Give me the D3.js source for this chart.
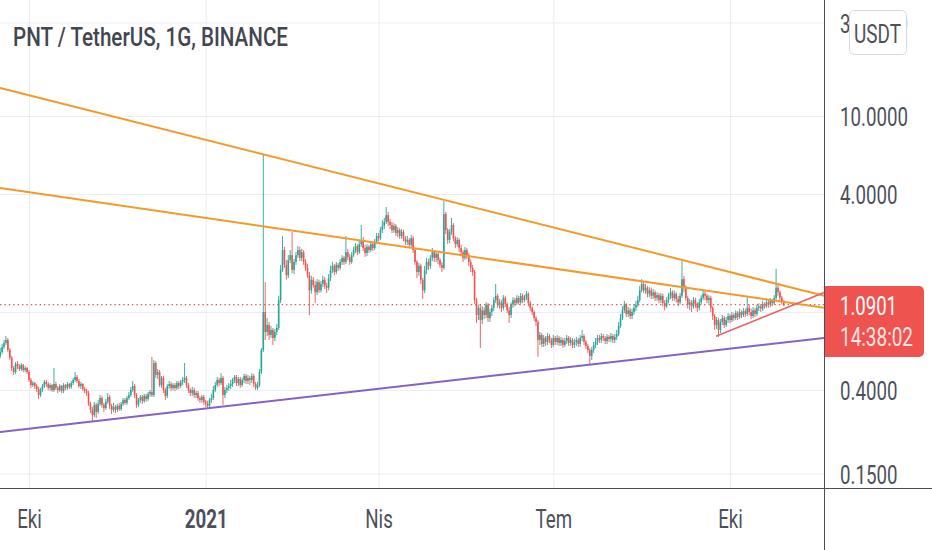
<!DOCTYPE html>
<html>
<head>
<meta charset="utf-8">
<script src="https://cdn.jsdelivr.net/npm/d3@7"></script>
<style>
  body { margin: 0; background: #fff; }
  svg { display: block; }
  text { font-family: Roboto, "Noto Sans", sans-serif; }
</style>
</head>
<body>
<div id="chart"></div>
<script>
// Daily candles, PNT/USDT, starting 16 Sep 2020 (open = previous close)
const firstDay = new Date(2020, 8, 16);
const firstOpen = 0.597;

const closes = [
  0.625,0.663,0.695,0.720,0.640,0.583,0.518,0.494,0.543,0.530,
  0.512,0.537,0.506,0.518,0.494,0.450,0.424,0.434,0.419,0.405,
  0.377,0.400,0.419,0.440,0.429,0.410,0.424,0.400,0.429,0.410,
  0.400,0.419,0.396,0.424,0.410,0.429,0.415,0.434,0.450,0.466,
  0.445,0.419,0.429,0.405,0.396,0.386,0.340,0.317,0.298,0.336,
  0.309,0.340,0.364,0.336,0.324,0.348,0.369,0.332,0.317,0.328,
  0.317,0.332,0.320,0.340,0.356,0.344,0.364,0.377,0.400,0.419,
  0.377,0.336,0.356,0.369,0.352,0.373,0.360,0.382,0.391,0.377,
  0.549,0.477,0.494,0.424,0.461,0.400,0.373,0.419,0.429,0.410,
  0.424,0.410,0.434,0.419,0.440,0.450,0.461,0.424,0.400,0.386,
  0.400,0.377,0.386,0.364,0.356,0.369,0.348,0.340,0.332,0.356,
  0.364,0.400,0.424,0.450,0.434,0.461,0.377,0.400,0.410,0.419,
  0.429,0.450,0.466,0.434,0.455,0.424,0.450,0.472,0.445,0.461,
  0.450,0.472,0.429,0.410,0.424,0.494,0.640,1.00,0.791,0.858,
  0.763,0.810,0.737,0.791,0.829,1.15,1.64,2.07,1.74,1.54,
  1.84,1.95,1.64,1.80,1.95,2.07,1.89,2.02,1.80,1.68,
  1.54,1.29,1.46,1.37,1.26,1.42,1.29,1.39,1.46,1.36,
  1.33,1.49,1.64,1.72,1.60,1.74,1.68,1.80,1.89,1.80,
  2.02,1.91,1.80,1.95,2.07,2.17,2.02,2.22,2.33,2.12,
  2.00,2.15,2.07,2.22,2.12,2.28,2.44,2.38,2.62,2.75,
  2.88,3.12,2.88,2.78,2.62,2.75,2.53,2.62,2.44,2.56,
  2.38,2.28,2.33,2.20,2.38,2.07,1.80,1.60,1.72,1.46,
  1.29,1.64,1.80,1.72,1.89,2.02,1.89,1.98,1.84,1.74,
  1.68,3.16,2.62,2.33,2.56,2.78,2.38,2.22,2.33,2.12,
  2.02,1.89,2.07,1.95,1.80,1.68,1.60,1.15,0.965,1.05,
  0.910,1.02,0.965,1.09,0.932,1.00,1.05,1.15,1.21,1.09,
  1.12,1.05,1.18,1.10,1.02,0.965,1.09,1.15,1.11,1.18,
  1.12,1.21,1.15,1.18,1.24,1.11,1.05,1.00,0.932,0.889,
  0.720,0.763,0.687,0.737,0.703,0.754,0.720,0.679,0.737,0.703,
  0.737,0.695,0.720,0.679,0.711,0.737,0.695,0.720,0.679,0.703,
  0.720,0.687,0.737,0.754,0.703,0.671,0.640,0.597,0.640,0.679,
  0.703,0.737,0.720,0.754,0.737,0.711,0.746,0.728,0.754,0.720,
  0.746,0.772,0.848,0.932,1.02,1.09,0.977,1.02,0.954,1.00,
  1.05,1.09,1.15,1.29,1.39,1.29,1.33,1.24,1.29,1.21,
  1.26,1.18,1.22,1.15,1.21,1.11,1.07,1.15,1.21,1.26,
  1.18,1.24,1.165,1.12,1.21,1.47,1.33,1.18,1.09,1.12,
  1.07,1.15,1.10,1.05,1.12,1.18,1.24,1.21,1.15,1.18,
  1.05,0.954,0.858,0.910,0.810,0.889,0.932,0.858,0.910,0.954,
  0.910,0.965,0.932,0.988,0.943,1.00,0.965,1.01,0.977,1.05,
  1.00,0.954,1.02,0.977,1.05,1.07,1.04,1.10,1.07,1.12,
  1.09,1.14,1.11,1.18,1.33,1.26,1.18,1.12,1.0901
];

const highs = [
  0.655,0.687,0.720,0.754,0.737,0.655,0.597,0.530,0.556,0.562,
  0.543,0.549,0.543,0.530,0.524,0.506,0.461,0.445,0.440,0.429,
  0.415,0.410,0.429,0.450,0.450,0.440,0.434,0.429,0.518,0.440,
  0.419,0.429,0.424,0.434,0.429,0.440,0.434,0.445,0.461,0.494,
  0.477,0.455,0.440,0.434,0.415,0.405,0.396,0.348,0.328,0.348,
  0.344,0.356,0.377,0.373,0.344,0.360,0.386,0.377,0.340,0.344,
  0.336,0.340,0.344,0.348,0.364,0.364,0.373,0.391,0.415,0.445,
  0.429,0.386,0.364,0.377,0.377,0.382,0.382,0.391,0.400,0.590,
  0.569,0.562,0.512,0.506,0.472,0.472,0.410,0.429,0.445,0.440,
  0.434,0.434,0.445,0.445,0.450,0.466,0.549,0.472,0.434,0.410,
  0.415,0.410,0.396,0.396,0.373,0.377,0.377,0.356,0.352,0.364,
  0.382,0.419,0.440,0.466,0.461,0.488,0.472,0.415,0.424,0.434,
  0.450,0.461,0.477,0.477,0.466,0.466,0.461,0.483,0.483,0.477,
  0.472,0.488,0.483,0.440,0.440,0.512,0.655,6.40,1.42,0.932,
  0.889,0.848,0.829,0.819,0.869,1.21,1.74,2.44,2.15,1.84,
  1.95,2.07,2.56,1.86,2.02,2.17,2.15,2.10,2.07,1.86,
  1.76,1.60,1.53,1.51,1.44,1.47,1.46,1.44,1.53,1.51,
  1.41,1.56,1.72,1.80,1.76,1.80,1.78,1.86,1.95,1.93,
  2.44,2.10,1.98,2.02,2.15,2.25,2.22,2.30,2.78,2.41,
  2.20,2.22,2.20,2.30,2.28,2.36,2.53,2.53,2.71,2.95,
  3.02,3.43,3.24,2.98,2.88,2.84,2.81,2.71,2.68,2.65,
  2.62,2.44,2.44,2.38,2.47,2.44,2.12,1.84,1.78,1.76,
  1.49,1.72,1.89,1.86,1.95,2.12,2.07,2.05,2.02,1.89,
  1.80,3.68,3.24,2.68,2.65,3.02,2.84,2.44,2.41,2.38,
  2.20,2.07,2.15,2.12,2.00,1.86,1.74,1.64,1.18,1.09,
  1.10,1.07,1.06,1.12,1.11,1.04,1.09,1.19,1.39,1.24,
  1.165,1.15,1.22,1.21,1.12,1.06,1.12,1.19,1.18,1.22,
  1.21,1.25,1.24,1.22,1.28,1.26,1.14,1.07,1.02,0.954,
  0.910,0.791,0.781,0.763,0.754,0.781,0.772,0.737,0.763,0.754,
  0.763,0.754,0.746,0.737,0.737,0.763,0.754,0.746,0.737,0.728,
  0.746,0.737,0.763,0.810,0.772,0.720,0.687,0.655,0.663,0.703,
  0.737,0.763,0.763,0.781,0.772,0.754,0.772,0.763,0.781,0.772,
  0.772,0.810,0.889,0.977,1.07,1.14,1.11,1.06,1.05,1.04,
  1.10,1.14,1.21,1.36,1.47,1.42,1.39,1.36,1.34,1.33,
  1.31,1.29,1.26,1.25,1.25,1.24,1.15,1.19,1.25,1.33,
  1.29,1.29,1.26,1.21,1.25,1.82,1.53,1.37,1.21,1.165,
  1.15,1.19,1.18,1.12,1.165,1.22,1.29,1.28,1.24,1.22,
  1.21,1.07,0.977,0.943,0.932,0.921,0.965,0.954,0.943,0.988,
  0.977,1.00,0.988,1.02,1.01,1.04,1.02,1.05,1.04,1.19,
  1.09,1.04,1.06,1.05,1.09,1.11,1.10,1.14,1.12,1.165,
  1.15,1.18,1.165,1.22,1.66,1.41,1.29,1.21,1.15
];

const lows = [
  0.583,0.611,0.647,0.679,0.625,0.569,0.500,0.477,0.483,0.512,
  0.500,0.500,0.494,0.494,0.483,0.440,0.410,0.415,0.405,0.391,
  0.360,0.369,0.391,0.410,0.415,0.400,0.396,0.391,0.391,0.400,
  0.386,0.391,0.386,0.386,0.400,0.400,0.405,0.405,0.424,0.440,
  0.434,0.410,0.405,0.396,0.386,0.373,0.332,0.305,0.278,0.291,
  0.288,0.302,0.332,0.324,0.309,0.317,0.340,0.320,0.302,0.309,
  0.305,0.309,0.313,0.313,0.332,0.336,0.336,0.356,0.369,0.391,
  0.364,0.324,0.328,0.344,0.340,0.344,0.348,0.352,0.369,0.369,
  0.369,0.461,0.455,0.415,0.410,0.386,0.356,0.364,0.405,0.396,
  0.400,0.396,0.400,0.405,0.410,0.424,0.434,0.410,0.386,0.373,
  0.373,0.364,0.364,0.352,0.344,0.344,0.336,0.328,0.324,0.324,
  0.344,0.356,0.391,0.415,0.419,0.424,0.336,0.364,0.386,0.396,
  0.405,0.415,0.434,0.419,0.419,0.410,0.415,0.434,0.429,0.429,
  0.424,0.434,0.415,0.400,0.400,0.415,0.483,0.625,0.720,0.754,
  0.720,0.737,0.679,0.711,0.763,0.810,1.11,1.60,1.68,1.46,
  1.49,1.78,1.58,1.56,1.74,1.89,1.82,1.82,1.74,1.62,
  1.49,0.965,1.24,1.33,1.11,1.22,1.25,1.26,1.34,1.31,
  1.25,1.29,1.44,1.58,1.54,1.56,1.62,1.64,1.74,1.74,
  1.76,1.84,1.74,1.76,1.91,2.00,1.95,1.98,2.15,2.05,
  1.91,1.93,2.00,2.02,2.05,2.07,2.22,2.30,2.33,2.53,
  2.65,2.81,2.75,2.65,2.53,2.53,2.44,2.41,2.36,2.36,
  2.30,2.20,2.20,2.12,2.15,2.00,1.74,1.49,1.53,1.39,
  1.165,1.25,1.56,1.64,1.66,1.82,1.80,1.80,1.76,1.68,
  1.60,1.64,2.50,2.22,2.25,2.47,2.30,2.12,2.15,2.02,
  1.93,1.80,1.84,1.86,1.72,1.60,1.53,1.10,0.879,0.910,
  0.655,0.869,0.921,0.932,0.889,0.889,0.954,1.01,1.11,1.05,
  1.04,1.00,1.02,1.06,0.988,0.879,0.932,1.05,1.07,1.09,
  1.09,1.10,1.11,1.12,1.15,1.07,1.01,0.965,0.900,0.848,
  0.590,0.679,0.663,0.663,0.671,0.679,0.695,0.655,0.663,0.679,
  0.679,0.671,0.671,0.655,0.663,0.687,0.671,0.671,0.655,0.655,
  0.671,0.663,0.663,0.711,0.679,0.647,0.618,0.543,0.569,0.618,
  0.655,0.679,0.695,0.695,0.711,0.687,0.687,0.703,0.703,0.695,
  0.695,0.720,0.754,0.829,0.910,0.988,0.943,0.943,0.921,0.921,
  0.965,1.01,1.06,1.12,1.26,1.25,1.24,1.19,1.19,1.165,
  1.165,1.14,1.14,1.11,1.11,1.07,1.02,1.05,1.11,1.165,
  1.14,1.14,1.12,1.07,1.09,1.18,1.26,1.14,1.04,1.02,
  1.00,1.04,1.05,1.00,1.02,1.09,1.15,1.15,1.11,1.10,
  1.00,0.910,0.810,0.819,0.746,0.781,0.858,0.829,0.838,0.879,
  0.879,0.889,0.900,0.910,0.910,0.921,0.932,0.943,0.943,0.954,
  0.965,0.921,0.932,0.943,0.954,1.01,1.00,1.01,1.04,1.05,
  1.05,1.06,1.07,1.09,1.15,1.21,1.14,1.09,1.07
];

const lastPrice = 1.0901;
const countdown = '14:38:02';

// axis ticks (the 1.0000 label sits under the price tag, so only its grid line shows)
const priceTicks = [30, 10, 4, 1, 0.4, 0.15];
const priceLabelTicks = [30, 10, 4, 0.4, 0.15];
const timeTicks = [new Date(2020, 9, 1), new Date(2021, 0, 1), new Date(2021, 3, 1),
                   new Date(2021, 6, 1), new Date(2021, 9, 1)];
const timeLabels = ['Eki', '2021', 'Nis', 'Tem', 'Eki'];

// drawn trend lines: [date, price] at each end
const edgeLeft = new Date(2020, 8, 16);
const edgeRight = new Date(2021, 10, 19);
const trendLines = [
  { from: [edgeLeft, 13.9], to: [edgeRight, 1.21], color: '#f39a2b', width: 2 },
  { from: [edgeLeft, 4.29], to: [edgeRight, 1.05], color: '#f39a2b', width: 2 },
  { from: [edgeLeft, 0.244], to: [edgeRight, 0.737], color: '#8561c8', width: 2 },
  { from: [new Date(2021, 8, 24), 0.754], to: [edgeRight, 1.257], color: '#e8656a', width: 1.6 }
];

// Set SVG size and plot area
const w = 932;
const h = 550;
const plotW = 824;
const plotH = 488;

const xScale = d3.scaleTime()
                 .domain([timeTicks[0], timeTicks[4]])
                 .range([29, 730]);

const yScale = d3.scaleLog()
                 .domain([0.1265, 39.06])
                 .range([plotH, 0]);

const svg = d3.select('#chart')
              .append('svg')
              .attr('width', w)
              .attr('height', h);

svg.append('defs').append('clipPath')
   .attr('id', 'plot')
   .append('rect')
   .attr('width', plotW)
   .attr('height', plotH);

// grid
const gridColor = '#eaedf2';
svg.append('g')
   .call(d3.axisRight(yScale).tickValues(priceTicks).tickSize(plotW).tickFormat(''))
   .call(g => g.select('.domain').remove())
   .selectAll('line').attr('stroke', gridColor);

svg.append('g')
   .attr('transform', 'translate(0,' + plotH + ')')
   .call(d3.axisBottom(xScale).tickValues(timeTicks).tickSize(-plotH).tickFormat(''))
   .call(g => g.select('.domain').remove())
   .selectAll('line').attr('stroke', gridColor);

// candles
const candles = closes.map((c, i) => ({
  date: d3.timeDay.offset(firstDay, i),
  open: i === 0 ? firstOpen : closes[i - 1],
  high: highs[i],
  low: lows[i],
  close: c
}));

const cg = svg.append('g').attr('clip-path', 'url(#plot)');
const candle = cg.selectAll('g.candle')
                 .data(candles)
                 .join('g')
                 .attr('class', 'candle')
                 .attr('fill', d => d.close >= d.open ? '#26a69a' : '#ef5350')
                 .attr('stroke', d => d.close >= d.open ? '#26a69a' : '#ef5350');

candle.append('line')
      .attr('x1', d => xScale(d.date))
      .attr('x2', d => xScale(d.date))
      .attr('y1', d => yScale(d.high))
      .attr('y2', d => yScale(d.low))
      .attr('stroke-width', 0.9);

candle.append('rect')
      .attr('stroke', 'none')
      .attr('x', d => xScale(d.date) - 0.8)
      .attr('width', 1.6)
      .attr('y', d => yScale(Math.max(d.open, d.close)))
      .attr('height', d => Math.max(1, Math.abs(yScale(d.open) - yScale(d.close))));

// last price dotted line
cg.append('line')
  .attr('x1', 0)
  .attr('x2', plotW)
  .attr('y1', yScale(lastPrice))
  .attr('y2', yScale(lastPrice))
  .attr('stroke', '#ef5350')
  .attr('stroke-width', 1.4)
  .attr('stroke-dasharray', '1.4,3');

// trend lines
cg.selectAll('line.trend')
  .data(trendLines)
  .join('line')
  .attr('class', 'trend')
  .attr('x1', d => xScale(d.from[0]))
  .attr('y1', d => yScale(d.from[1]))
  .attr('x2', d => xScale(d.to[0]))
  .attr('y2', d => yScale(d.to[1]))
  .attr('stroke', d => d.color)
  .attr('stroke-width', d => d.width)
  .attr('stroke-linecap', 'round');

// axes borders
const axisColor = '#4a4e59';
svg.append('line')
   .attr('x1', plotW + 0.5).attr('x2', plotW + 0.5)
   .attr('y1', 0).attr('y2', h)
   .attr('stroke', axisColor);
svg.append('line')
   .attr('x1', 0).attr('x2', w)
   .attr('y1', plotH + 0.5).attr('y2', plotH + 0.5)
   .attr('stroke', axisColor);

// text is drawn narrow like in the screenshot
const sx = 0.72;

// price axis labels
svg.append('g')
   .attr('transform', 'translate(' + plotW + ',0)')
   .call(d3.axisRight(yScale).tickValues(priceLabelTicks).tickSize(0).tickFormat(d3.format('.4f')))
   .call(g => g.select('.domain').remove())
   .selectAll('text')
   .attr('x', 16 / sx)
   .attr('dy', '0.38em')
   .attr('transform', 'scale(' + sx + ',1)')
   .attr('fill', '#4c505b')
   .style('font-size', '26px')
   .style('font-family', 'Roboto');

// time axis labels
svg.append('g')
   .attr('transform', 'translate(0,' + plotH + ')')
   .call(d3.axisBottom(xScale).tickValues(timeTicks).tickSize(0).tickFormat((d, i) => timeLabels[i]))
   .call(g => g.select('.domain').remove())
   .selectAll('text')
   .attr('y', 40)
   .attr('dy', 0)
   .attr('transform', 'scale(' + sx + ',1)')
   .attr('fill', '#4c505b')
   .style('font-size', '26px')
   .style('font-family', 'Roboto')
   .style('font-weight', (d, i) => i === 1 ? 700 : 400);

// title
svg.append('text')
   .attr('x', 13)
   .attr('y', 46)
   .attr('textLength', 275)
   .attr('lengthAdjust', 'spacingAndGlyphs')
   .attr('fill', '#434651')
   .style('font-size', '26px')
   .style('font-weight', 500)
   .text('PNT / TetherUS, 1G, BINANCE');

// currency button (covers most of the top price label, as in the app)
svg.append('rect')
   .attr('x', 849.5).attr('y', 10.5)
   .attr('width', 57).attr('height', 44)
   .attr('rx', 5)
   .attr('fill', '#fff')
   .attr('stroke', '#d6d9df');
svg.append('text')
   .attr('x', 854)
   .attr('y', 43)
   .attr('textLength', 47)
   .attr('lengthAdjust', 'spacingAndGlyphs')
   .attr('fill', '#4c505b')
   .style('font-size', '26px')
   .text('USDT');

// last price label
const tag = svg.append('g');
tag.append('rect')
   .attr('x', plotW + 1).attr('y', 286)
   .attr('width', 99).attr('height', 71)
   .attr('rx', 5)
   .attr('fill', '#ef5350');
tag.append('rect')
   .attr('x', plotW + 1).attr('y', 286)
   .attr('width', 8).attr('height', 71)
   .attr('fill', '#ef5350');
tag.append('text')
   .attr('x', 840).attr('y', 315)
   .attr('textLength', 57)
   .attr('lengthAdjust', 'spacingAndGlyphs')
   .attr('fill', '#fff')
   .style('font-size', '26px')
   .text(lastPrice.toFixed(4));
tag.append('text')
   .attr('x', 840).attr('y', 346)
   .attr('textLength', 73)
   .attr('lengthAdjust', 'spacingAndGlyphs')
   .attr('fill', '#fde4e4')
   .style('font-size', '26px')
   .text(countdown);
</script>
</body>
</html>
